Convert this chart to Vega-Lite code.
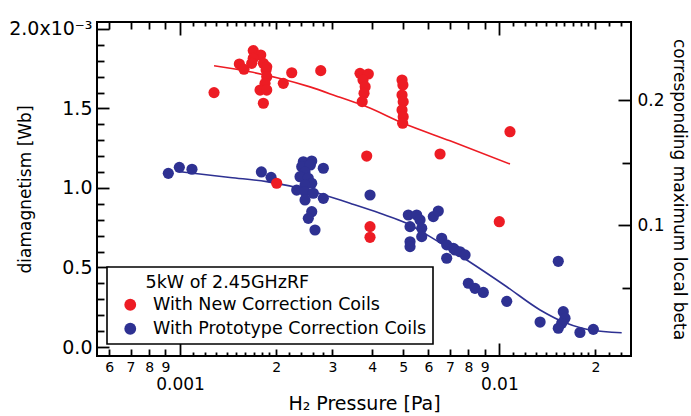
{
  "$schema": "https://vega.github.io/schema/vega-lite/v6.json",
  "width": 534,
  "height": 334,
  "autosize": {"type": "none"},
  "padding": {"left": 97, "top": 22, "right": 60, "bottom": 60},
  "background": "white",
  "config": {
    "view": {"stroke": "black", "strokeWidth": 2},
    "font": "DejaVu Sans",
    "axis": {"grid": false, "domain": false, "labelColor": "black", "titleColor": "black", "tickColor": "black", "tickWidth": 1.8, "labelFont": "DejaVu Sans", "titleFont": "DejaVu Sans", "titleFontWeight": "normal"}
  },
  "datasets": {
    "points": [
      {"series": "With Prototype Correction Coils", "pressure": 0.000919, "dia": 0.001092},
      {"series": "With Prototype Correction Coils", "pressure": 0.000995, "dia": 0.001130},
      {"series": "With Prototype Correction Coils", "pressure": 0.00109, "dia": 0.001118},
      {"series": "With Prototype Correction Coils", "pressure": 0.001798, "dia": 0.001101},
      {"series": "With Prototype Correction Coils", "pressure": 0.001928, "dia": 0.001067},
      {"series": "With Prototype Correction Coils", "pressure": 0.002811, "dia": 0.001124},
      {"series": "With Prototype Correction Coils", "pressure": 0.002433, "dia": 0.001165},
      {"series": "With Prototype Correction Coils", "pressure": 0.002585, "dia": 0.001170},
      {"series": "With Prototype Correction Coils", "pressure": 0.002405, "dia": 0.001134},
      {"series": "With Prototype Correction Coils", "pressure": 0.002560, "dia": 0.001145},
      {"series": "With Prototype Correction Coils", "pressure": 0.002463, "dia": 0.001100},
      {"series": "With Prototype Correction Coils", "pressure": 0.002376, "dia": 0.001071},
      {"series": "With Prototype Correction Coils", "pressure": 0.002522, "dia": 0.001061},
      {"series": "With Prototype Correction Coils", "pressure": 0.002585, "dia": 0.001030},
      {"series": "With Prototype Correction Coils", "pressure": 0.002463, "dia": 0.001019},
      {"series": "With Prototype Correction Coils", "pressure": 0.002320, "dia": 0.000987},
      {"series": "With Prototype Correction Coils", "pressure": 0.002463, "dia": 0.000977},
      {"series": "With Prototype Correction Coils", "pressure": 0.002615, "dia": 0.000967},
      {"series": "With Prototype Correction Coils", "pressure": 0.002463, "dia": 0.000925},
      {"series": "With Prototype Correction Coils", "pressure": 0.002811, "dia": 0.000935},
      {"series": "With Prototype Correction Coils", "pressure": 0.002585, "dia": 0.000851},
      {"series": "With Prototype Correction Coils", "pressure": 0.002522, "dia": 0.000809},
      {"series": "With Prototype Correction Coils", "pressure": 0.002647, "dia": 0.000736},
      {"series": "With Prototype Correction Coils", "pressure": 0.003936, "dia": 0.000956},
      {"series": "With Prototype Correction Coils", "pressure": 0.005188, "dia": 0.000830},
      {"series": "With Prototype Correction Coils", "pressure": 0.005511, "dia": 0.000830},
      {"series": "With Prototype Correction Coils", "pressure": 0.005253, "dia": 0.000757},
      {"series": "With Prototype Correction Coils", "pressure": 0.005645, "dia": 0.000799},
      {"series": "With Prototype Correction Coils", "pressure": 0.005715, "dia": 0.000747},
      {"series": "With Prototype Correction Coils", "pressure": 0.005715, "dia": 0.000694},
      {"series": "With Prototype Correction Coils", "pressure": 0.005253, "dia": 0.000662},
      {"series": "With Prototype Correction Coils", "pressure": 0.005253, "dia": 0.000631},
      {"series": "With Prototype Correction Coils", "pressure": 0.006213, "dia": 0.000820},
      {"series": "With Prototype Correction Coils", "pressure": 0.006441, "dia": 0.000855},
      {"series": "With Prototype Correction Coils", "pressure": 0.006601, "dia": 0.000684},
      {"series": "With Prototype Correction Coils", "pressure": 0.006843, "dia": 0.000642},
      {"series": "With Prototype Correction Coils", "pressure": 0.007178, "dia": 0.000621},
      {"series": "With Prototype Correction Coils", "pressure": 0.007266, "dia": 0.000610},
      {"series": "With Prototype Correction Coils", "pressure": 0.007534, "dia": 0.000599},
      {"series": "With Prototype Correction Coils", "pressure": 0.007812, "dia": 0.000579},
      {"series": "With Prototype Correction Coils", "pressure": 0.006843, "dia": 0.000558},
      {"series": "With Prototype Correction Coils", "pressure": 0.007999, "dia": 0.000401},
      {"series": "With Prototype Correction Coils", "pressure": 0.008393, "dia": 0.000369},
      {"series": "With Prototype Correction Coils", "pressure": 0.008912, "dia": 0.000343},
      {"series": "With Prototype Correction Coils", "pressure": 0.01055, "dia": 0.000287},
      {"series": "With Prototype Correction Coils", "pressure": 0.01530, "dia": 0.000539},
      {"series": "With Prototype Correction Coils", "pressure": 0.01342, "dia": 0.000157},
      {"series": "With Prototype Correction Coils", "pressure": 0.01586, "dia": 0.000222},
      {"series": "With Prototype Correction Coils", "pressure": 0.01606, "dia": 0.000181},
      {"series": "With Prototype Correction Coils", "pressure": 0.01568, "dia": 0.000149},
      {"series": "With Prototype Correction Coils", "pressure": 0.01530, "dia": 0.000118},
      {"series": "With Prototype Correction Coils", "pressure": 0.01789, "dia": 0.000091},
      {"series": "With Prototype Correction Coils", "pressure": 0.01970, "dia": 0.000111},
      {"series": "With New Correction Coils", "pressure": 0.001278, "dia": 0.001600},
      {"series": "With New Correction Coils", "pressure": 0.001534, "dia": 0.001780},
      {"series": "With New Correction Coils", "pressure": 0.001586, "dia": 0.001747},
      {"series": "With New Correction Coils", "pressure": 0.001696, "dia": 0.001864},
      {"series": "With New Correction Coils", "pressure": 0.001790, "dia": 0.001836},
      {"series": "With New Correction Coils", "pressure": 0.001696, "dia": 0.001816},
      {"series": "With New Correction Coils", "pressure": 0.001677, "dia": 0.001784},
      {"series": "With New Correction Coils", "pressure": 0.001824, "dia": 0.001784},
      {"series": "With New Correction Coils", "pressure": 0.001869, "dia": 0.001762},
      {"series": "With New Correction Coils", "pressure": 0.001860, "dia": 0.001742},
      {"series": "With New Correction Coils", "pressure": 0.001869, "dia": 0.001700},
      {"series": "With New Correction Coils", "pressure": 0.001846, "dia": 0.001658},
      {"series": "With New Correction Coils", "pressure": 0.001781, "dia": 0.001616},
      {"series": "With New Correction Coils", "pressure": 0.001869, "dia": 0.001616},
      {"series": "With New Correction Coils", "pressure": 0.001824, "dia": 0.001533},
      {"series": "With New Correction Coils", "pressure": 0.002106, "dia": 0.001658},
      {"series": "With New Correction Coils", "pressure": 0.002238, "dia": 0.001725},
      {"series": "With New Correction Coils", "pressure": 0.002759, "dia": 0.001738},
      {"series": "With New Correction Coils", "pressure": 0.003662, "dia": 0.001721},
      {"series": "With New Correction Coils", "pressure": 0.003888, "dia": 0.001717},
      {"series": "With New Correction Coils", "pressure": 0.003742, "dia": 0.001679},
      {"series": "With New Correction Coils", "pressure": 0.003800, "dia": 0.001637},
      {"series": "With New Correction Coils", "pressure": 0.003770, "dia": 0.001596},
      {"series": "With New Correction Coils", "pressure": 0.003720, "dia": 0.001543},
      {"series": "With New Correction Coils", "pressure": 0.004958, "dia": 0.001679},
      {"series": "With New Correction Coils", "pressure": 0.004990, "dia": 0.001648},
      {"series": "With New Correction Coils", "pressure": 0.004958, "dia": 0.001585},
      {"series": "With New Correction Coils", "pressure": 0.005000, "dia": 0.001543},
      {"series": "With New Correction Coils", "pressure": 0.004958, "dia": 0.001491},
      {"series": "With New Correction Coils", "pressure": 0.005000, "dia": 0.001448},
      {"series": "With New Correction Coils", "pressure": 0.004980, "dia": 0.001407},
      {"series": "With New Correction Coils", "pressure": 0.003843, "dia": 0.001201},
      {"series": "With New Correction Coils", "pressure": 0.006522, "dia": 0.001214},
      {"series": "With New Correction Coils", "pressure": 0.010800, "dia": 0.001354},
      {"series": "With New Correction Coils", "pressure": 0.003936, "dia": 0.000757},
      {"series": "With New Correction Coils", "pressure": 0.003936, "dia": 0.000690},
      {"series": "With New Correction Coils", "pressure": 0.010000, "dia": 0.000788},
      {"series": "With New Correction Coils", "pressure": 0.002008, "dia": 0.001030}
    ],
    "lines": [
      {"fit": "New", "pressure": 0.001278, "dia": 0.001769},
      {"fit": "New", "pressure": 0.001656, "dia": 0.001731},
      {"fit": "New", "pressure": 0.002057, "dia": 0.001689},
      {"fit": "New", "pressure": 0.002553, "dia": 0.001636},
      {"fit": "New", "pressure": 0.003170, "dia": 0.001570},
      {"fit": "New", "pressure": 0.003843, "dia": 0.001511},
      {"fit": "New", "pressure": 0.005004, "dia": 0.001407},
      {"fit": "New", "pressure": 0.007009, "dia": 0.001297},
      {"fit": "New", "pressure": 0.010800, "dia": 0.001151},
      {"fit": "Prototype", "pressure": 0.001000, "dia": 0.001103},
      {"fit": "Prototype", "pressure": 0.001434, "dia": 0.001066},
      {"fit": "Prototype", "pressure": 0.001869, "dia": 0.001040},
      {"fit": "Prototype", "pressure": 0.002615, "dia": 0.000977},
      {"fit": "Prototype", "pressure": 0.003407, "dia": 0.000904},
      {"fit": "Prototype", "pressure": 0.004231, "dia": 0.000841},
      {"fit": "Prototype", "pressure": 0.005129, "dia": 0.000778},
      {"fit": "Prototype", "pressure": 0.006067, "dia": 0.000694},
      {"fit": "Prototype", "pressure": 0.007910, "dia": 0.000547},
      {"fit": "Prototype", "pressure": 0.010550, "dia": 0.000379},
      {"fit": "Prototype", "pressure": 0.013420, "dia": 0.000233},
      {"fit": "Prototype", "pressure": 0.016260, "dia": 0.000149},
      {"fit": "Prototype", "pressure": 0.019230, "dia": 0.000107},
      {"fit": "Prototype", "pressure": 0.024170, "dia": 0.000090}
    ],
    "beta": [{"pressure": 0.001, "beta": 0.1}]
  },
  "layer": [
    {
      "data": {"name": "lines"},
      "mark": {"type": "line", "strokeWidth": 1.6, "interpolate": "monotone"},
      "encoding": {
        "x": {
          "field": "pressure", "type": "quantitative",
          "scale": {"type": "log", "domain": [0.0005495, 0.02585], "nice": false},
          "axis": {
            "orient": "bottom",
            "values": [0.0006,0.0007,0.0008,0.0009,0.001,0.0011,0.0012,0.0013,0.0014,0.0015,0.0016,0.0017,0.0018,0.0019,0.002,0.0022,0.0024,0.0026,0.0028,0.003,0.004,0.005,0.006,0.007,0.008,0.009,0.01,0.011,0.012,0.013,0.014,0.015,0.016,0.017,0.018,0.019,0.02,0.022,0.024],
            "labels": false,
            "tickSize": {"condition": [
              {"test": "datum.value == 0.001 || datum.value == 0.01", "value": -13},
              {"test": "indexof([0.0006,0.0007,0.0008,0.0009,0.002,0.003,0.004,0.005,0.006,0.007,0.008,0.009,0.02], datum.value) >= 0", "value": -7}
            ], "value": -4},
            "title": null
          }
        },
        "y": {
          "field": "dia", "type": "quantitative",
          "scale": {"domain": [-0.0000566, 0.002044], "nice": false, "zero": false},
          "axis": {
            "orient": "left",
            "values": [0,0.0001,0.0002,0.0003,0.0004,0.0005,0.0006,0.0007,0.0008,0.0009,0.001,0.0011,0.0012,0.0013,0.0014,0.0015,0.0016,0.0017,0.0018,0.0019,0.002],
            "labels": false,
            "tickSize": {"condition": {"test": "indexof([0,0.0005,0.001,0.0015,0.002], datum.value) >= 0", "value": -12}, "value": -7},
            "title": null
          }
        },
        "stroke": {
          "field": "fit", "type": "nominal",
          "scale": {"domain": ["New", "Prototype"], "range": ["#ED1C24", "#2E3192"]},
          "legend": null
        }
      }
    },
    {
      "data": {"name": "points"},
      "mark": {"type": "circle", "size": 125, "opacity": 1},
      "encoding": {
        "x": {
          "field": "pressure", "type": "quantitative",
          "scale": {"type": "log", "domain": [0.0005495, 0.02585], "nice": false},
          "axis": {
            "orient": "bottom",
            "values": [0.0006,0.0007,0.0008,0.0009,0.001,0.002,0.003,0.004,0.005,0.006,0.007,0.008,0.009,0.01,0.02],
            "labelExpr": "datum.value == 0.001 ? '0.001' : datum.value == 0.01 ? '0.01' : format(datum.value / pow(10, floor(log(datum.value) / LN10 + 1e-9)), '.0f')",
            "ticks": false,
            "labelFlush": false,
            "labelOverlap": false,
            "labelFontSize": {"condition": {"test": "datum.value == 0.001 || datum.value == 0.01", "value": 17}, "value": 14},
            "labelPadding": {"condition": {"test": "datum.value == 0.001 || datum.value == 0.01", "value": 20}, "value": 4},
            "title": "H₂ Pressure [Pa]",
            "titleFontSize": 19,
            "titlePadding": 2
          }
        },
        "y": {
          "field": "dia", "type": "quantitative",
          "scale": {"domain": [-0.0000566, 0.002044], "nice": false, "zero": false},
          "axis": {
            "orient": "left",
            "values": [0, 0.0005, 0.001, 0.0015, 0.002],
            "labelExpr": "datum.value > 0.0019 ? '2.0x10⁻³' : format(datum.value * 1000, '.1f')",
            "ticks": false,
            "labelFontSize": 19,
            "labelPadding": 5,
            "title": "diamagnetism [Wb]",
            "titleFontSize": 17,
            "titleX": -72,
            "titleY": 167,
            "titleAngle": -90,
            "titleAlign": "center",
            "titleBaseline": "middle"
          }
        },
        "color": {
          "field": "series", "type": "nominal",
          "scale": {"domain": ["With New Correction Coils", "With Prototype Correction Coils"], "range": ["#ED1C24", "#2E3192"]},
          "legend": {
            "orient": "none", "legendX": 10, "legendY": 245,
            "title": "5kW of 2.45GHzRF",
            "titleFontSize": 17.5, "titleFontWeight": "normal", "titleColor": "black", "titleFont": "DejaVu Sans",
            "labelFontSize": 17.5, "labelColor": "black", "labelFont": "DejaVu Sans", "labelLimit": 0,
            "symbolType": "circle", "symbolSize": 140, "symbolStrokeWidth": 0, "symbolOpacity": 1,
            "padding": 6.5, "strokeColor": "black", "fillColor": "white",
            "rowPadding": 5, "titlePadding": 5, "symbolOffset": 8, "labelOffset": 14,
            "encode": {
              "title": {"update": {"dx": {"value": 32}}},
              "legend": {"update": {"strokeWidth": {"value": 1.6}}}
            }
          }
        }
      }
    },
    {
      "data": {"name": "beta"},
      "mark": {"type": "point", "opacity": 0},
      "encoding": {
        "x": {
          "field": "pressure", "type": "quantitative",
          "scale": {"type": "log", "domain": [0.0005495, 0.02585], "nice": false},
          "axis": {
            "orient": "top",
            "values": [0.0006,0.0007,0.0008,0.0009,0.001,0.0011,0.0012,0.0013,0.0014,0.0015,0.0016,0.0017,0.0018,0.0019,0.002,0.0022,0.0024,0.0026,0.0028,0.003,0.004,0.005,0.006,0.007,0.008,0.009,0.01,0.011,0.012,0.013,0.014,0.015,0.016,0.017,0.018,0.019,0.02,0.022,0.024],
            "labels": false,
            "tickSize": {"condition": [
              {"test": "datum.value == 0.001 || datum.value == 0.01", "value": -13},
              {"test": "indexof([0.0006,0.0007,0.0008,0.0009,0.002,0.003,0.004,0.005,0.006,0.007,0.008,0.009,0.02], datum.value) >= 0", "value": -7}
            ], "value": -4},
            "title": null
          }
        },
        "y": {
          "field": "beta", "type": "quantitative",
          "scale": {"domain": [-0.0048, 0.2624], "nice": false, "zero": false},
          "axis": {
            "orient": "right",
            "values": [0.05, 0.1, 0.15, 0.2],
            "labelExpr": "datum.value == 0.1 || datum.value == 0.2 ? format(datum.value, '.1f') : ''",
            "tickSize": {"condition": {"test": "datum.value == 0.1 || datum.value == 0.2", "value": -13}, "value": -9},
            "labelPadding": {"condition": {"test": "datum.value == 0.1 || datum.value == 0.2", "value": 19}, "value": 15},
            "labelFontSize": 17,
            "title": "corresponding maximum local beta",
            "titleFontSize": 17,
            "titlePadding": 5
          }
        }
      }
    }
  ],
  "resolve": {"scale": {"y": "independent"}, "axis": {"x": "independent", "y": "independent"}}
}
